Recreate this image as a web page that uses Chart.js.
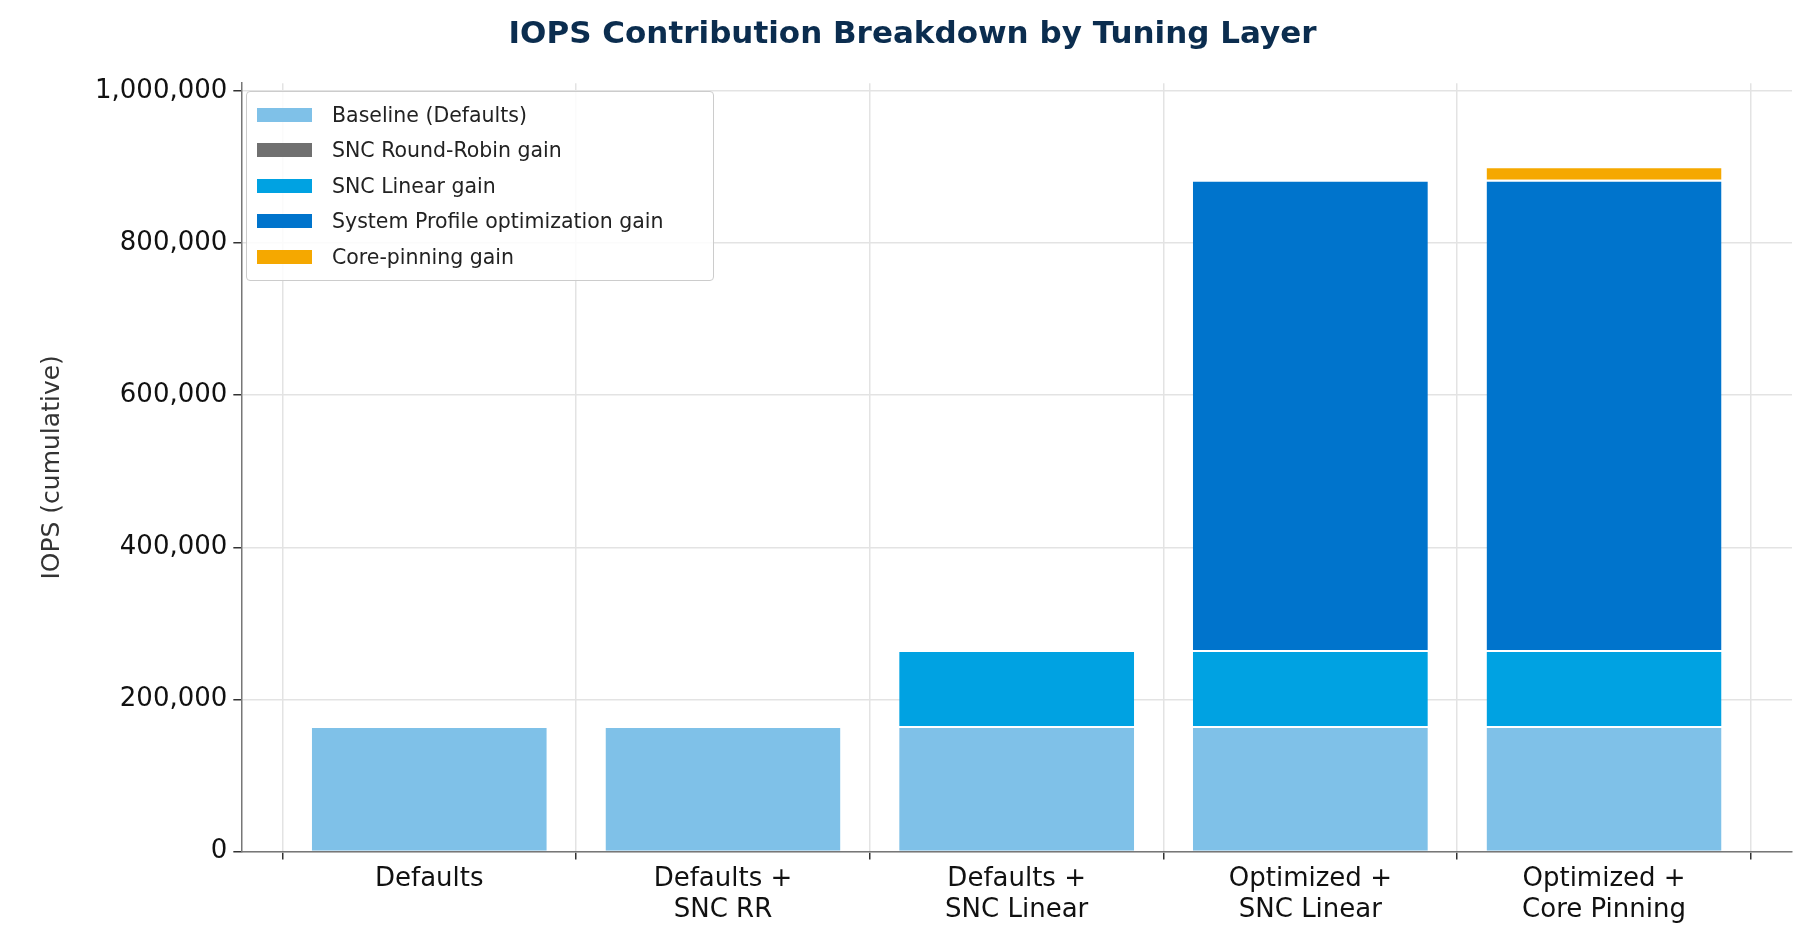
<!DOCTYPE html>
<html><head><meta charset="utf-8">
<script src="https://cdn.jsdelivr.net/npm/chart.js@4"></script>
<style>
body{margin:0;background:#fff;font-family:"DejaVu Sans";}
#wrap{position:relative;width:1812px;height:950px;}
#legend{position:absolute;left:246px;top:91px;width:468px;border:1.5px solid #ccc;border-radius:4px;background:rgba(255,255,255,0.85);padding:5px 10px;box-sizing:border-box;font-size:20.5px;color:#222;}
#legend div{height:35.5px;display:flex;align-items:center;}
#legend span.sw{display:inline-block;width:55px;height:14px;margin-right:20px;}
</style></head><body>
<div id="wrap"><canvas id="c" width="1812" height="950"></canvas><div id="legend"></div></div>
<script>
const categories=[["Defaults"],["Defaults +","SNC RR"],["Defaults +","SNC Linear"],["Optimized +","SNC Linear"],["Optimized +","Core Pinning"]];
const seriesNames=["Baseline (Defaults)","SNC Round-Robin gain","SNC Linear gain","System Profile optimization gain","Core-pinning gain"];
const baseline=[165000,165000,165000,165000,165000];
const sncRR=[0,0,0,0,0];
const sncLinear=[0,0,100000,100000,100000];
const sysProfile=[0,0,0,618000,618000];
const corePin=[0,0,0,0,18000];
const colors=["#7fc1e8","#707070","#00a2e2","#0074cc","#f5a800"];
const yTicks=[0,200000,400000,600000,800000,1000000];
const data=[baseline,sncRR,sncLinear,sysProfile,corePin];
document.getElementById('legend').innerHTML=seriesNames.map((n,i)=>`<div><span class="sw" style="background:${colors[i]}"></span>${n}</div>`).join('');
Chart.defaults.font.family="DejaVu Sans";
new Chart(document.getElementById('c'),{type:'bar',
data:{datasets:data.map((d,i)=>({label:seriesNames[i],data:d.map((v,j)=>({x:j,y:v})),backgroundColor:colors[i],borderColor:'#fff',borderWidth:{top:2,bottom:0,left:0,right:0},borderSkipped:false,barPercentage:0.8,categoryPercentage:1}))},
options:{responsive:false,animation:false,
layout:{padding:{left:33,right:20,top:0,bottom:20}},
plugins:{legend:{display:false},tooltip:{enabled:false},
title:{display:true,text:"IOPS Contribution Breakdown by Tuning Layer",color:"#0b2d4f",font:{size:31,weight:'bold'},padding:{top:16,bottom:30}}},
scales:{x:{type:'linear',stacked:true,min:-0.64,max:4.64,offset:false,
  afterBuildTicks(s){s.ticks=categories.map((c,i)=>({value:i}));},
  grid:{color:'#e3e3e3',lineWidth:1.5,tickColor:'#333',tickLength:8},border:{color:'#777',width:1.5},
  ticks:{color:'#111',font:{size:26},padding:4,callback:(v)=>categories[v]}},
y:{stacked:true,min:0,max:1010000,afterBuildTicks(s){s.ticks=yTicks.map(v=>({value:v}));},
  grid:{color:'#e3e3e3',lineWidth:1.5,tickColor:'#333',tickLength:8},border:{color:'#777',width:1.5},
  ticks:{color:'#111',font:{size:26},padding:6,callback:v=>v.toLocaleString('en-US')},
  title:{display:true,text:"IOPS (cumulative)",color:'#333',font:{size:25},padding:{bottom:22}}}}}});
</script></body></html>
